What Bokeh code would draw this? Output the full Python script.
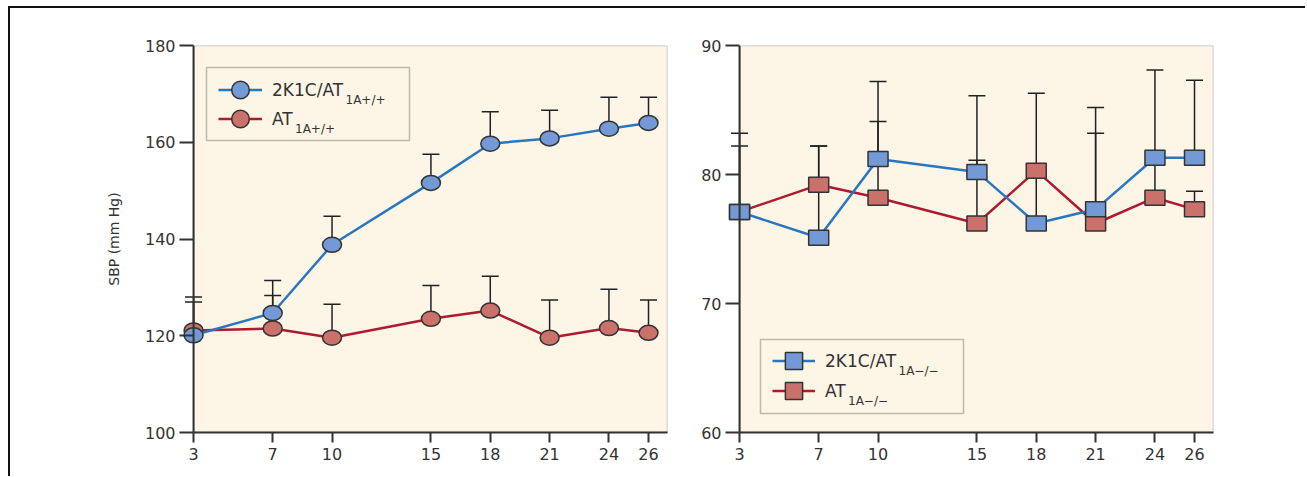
from bokeh.plotting import figure
from bokeh.models import (ColumnDataSource, Range1d, FixedTicker, Whisker, TeeHead, Span,
                          Legend, LegendItem, Label, BoxAnnotation)
from bokeh.layouts import row
from bokeh.embed import file_html
from bokeh.resources import INLINE

# ---------------- data ----------------
days = [3, 7, 10, 15, 18, 21, 24, 26]

# left panel: AT1A+/+ mice
wt_2k1c = [120.1, 124.7, 138.8, 151.6, 159.7, 160.8, 162.8, 164.0]
wt_2k1c_upper = [128.0, 131.4, 144.7, 157.5, 166.3, 166.6, 169.3, 169.3]
wt_ctrl = [121.1, 121.5, 119.6, 123.5, 125.2, 119.6, 121.6, 120.6]
wt_ctrl_upper = [127.0, 128.3, 126.5, 130.4, 132.3, 127.4, 129.6, 127.4]

# right panel: AT1A-/- mice
ko_2k1c = [77.1, 75.1, 81.2, 80.2, 76.2, 77.3, 81.3, 81.3]
ko_2k1c_upper = [83.2, 82.2, 87.2, 86.1, 86.3, 85.2, 88.1, 87.3]
ko_ctrl = [77.1, 79.2, 78.2, 76.2, 80.3, 76.2, 78.2, 77.3]
ko_ctrl_upper = [82.2, 82.2, 84.1, 81.1, 80.8, 83.2, 81.3, 78.7]

left_yticks = [100, 120, 140, 160, 180]
right_yticks = [60, 70, 80, 90]
y_label = "SBP (mm Hg)"

wt_labels = ["2K1C/AT", "AT"]
wt_subs = ["1A+/+", "1A+/+"]
ko_labels = ["2K1C/AT", "AT"]
ko_subs = ["1A\u2212/\u2212", "1A\u2212/\u2212"]

# ---------------- style ----------------
BLUE_LINE = "#2A76C0"
BLUE_FILL = "#7399D6"
RED_LINE = "#AE1A30"
RED_FILL = "#C9716A"
EDGE = "#333333"
BG = "#FDF5E6"
FONT = "DejaVu Sans"
X_START = 2.39   # room left of the y axis so edge markers are not clipped
X_END = 26.96
OFF = 12         # screen distance from frame edge to the y axis line


def make_fig(width, left, right, yr, yticks):
    p = figure(width=width, height=468, x_range=Range1d(X_START, X_END), y_range=Range1d(*yr),
               output_backend="svg", toolbar_location=None,
               min_border_left=left, min_border_right=right,
               min_border_top=37, min_border_bottom=44)
    p.background_fill_color = "white"
    p.border_fill_color = "white"
    p.outline_line_color = None
    p.xgrid.visible = False
    p.ygrid.visible = False
    # cream plotting area starting at the first day, with its own border
    p.add_layout(BoxAnnotation(left=days[0], fill_color=BG, fill_alpha=1,
                               line_color=EDGE, line_width=1.5, level="underlay"))
    p.add_layout(Span(location=days[0], dimension="height", line_color=EDGE, line_width=2))
    p.xaxis.ticker = FixedTicker(ticks=days)
    p.yaxis.ticker = FixedTicker(ticks=yticks)
    p.xaxis.bounds = (days[0], X_END)
    for ax in p.axis:
        ax.axis_line_width = 2
        ax.axis_line_color = EDGE
        ax.major_tick_line_width = 2
        ax.major_tick_line_color = EDGE
        ax.major_tick_in = 0
        ax.minor_tick_in = 0
        ax.minor_tick_out = 0
        ax.major_label_text_font = FONT
        ax.major_label_text_font_size = "16px"
        ax.major_label_text_color = EDGE
    p.xaxis.major_tick_out = 10
    p.xaxis.major_label_standoff = 5
    # y axis sits at the frame edge; its ticks reach in to the line at day 3
    p.yaxis.axis_line_color = None
    p.yaxis.major_tick_in = OFF
    p.yaxis.major_tick_out = 14 - OFF
    p.yaxis.major_label_standoff = 4
    return p


def add_series(p, y, upper, line_color, fill_color, shape):
    src = ColumnDataSource(dict(x=days, y=y, upper=upper))
    w = Whisker(source=src, base="x", upper="upper", lower="y", dimension="height",
                line_color="#222222", line_width=1.5,
                upper_head=TeeHead(size=17, line_color="#222222", line_width=1.5),
                lower_head=None, level="underlay")
    p.add_layout(w)
    line_r = p.line("x", "y", source=src, line_color=line_color, line_width=2.5)
    # zero-size markers: invisible in the plot, but give the legend its marker
    leg_r = p.scatter("x", "y", source=src, marker=shape, size=0, fill_color=fill_color,
                      line_color=EDGE, line_width=1.5)
    if shape == "circle":
        p.ellipse("x", "y", source=src, width=19, height=15, width_units="screen",
                  height_units="screen", fill_color=fill_color, line_color=EDGE, line_width=1.5)
    else:
        p.rect("x", "y", source=src, width=20, height=15, width_units="screen",
               height_units="screen", fill_color=fill_color, line_color=EDGE, line_width=1.5)
    return [line_r, leg_r]


def add_legend(p, label, sub, renderers, x, y, gw, sub_dx, sub_y):
    leg = Legend(items=[LegendItem(label=label, renderers=renderers)], location=(x, y),
                 padding=0, margin=0, spacing=0, glyph_width=gw, glyph_height=45,
                 label_standoff=10, label_text_font=FONT, label_text_font_size="17px",
                 label_text_color=EDGE, border_line_color=None, background_fill_alpha=0)
    p.add_layout(leg)
    p.add_layout(Label(x=x + gw + 10 + sub_dx, y=sub_y, x_units="screen", y_units="screen",
                       text=sub, text_font=FONT, text_font_size="12px",
                       text_baseline="alphabetic", text_color=EDGE))


# ---------------- left panel ----------------
p1 = make_fig(669, 171, 12, (100, 180), left_yticks)
p1.yaxis.axis_label = y_label
p1.yaxis.axis_label_text_font = FONT
p1.yaxis.axis_label_text_font_size = "14px"
p1.yaxis.axis_label_text_font_style = "normal"
p1.yaxis.axis_label_text_color = EDGE
p1.yaxis.axis_label_standoff = 20

r_wt_ctrl = add_series(p1, wt_ctrl, wt_ctrl_upper, RED_LINE, RED_FILL, "circle")
r_wt_2k1c = add_series(p1, wt_2k1c, wt_2k1c_upper, BLUE_LINE, BLUE_FILL, "circle")
p1.add_layout(BoxAnnotation(left=OFF + 13, right=OFF + 216, top=365, bottom=292,
                            left_units="screen", right_units="screen", top_units="screen",
                            bottom_units="screen", fill_alpha=0, line_color=EDGE, line_width=1.5))
add_legend(p1, wt_labels[0], wt_subs[0], r_wt_2k1c, OFF + 25, 320, 44, 73, 333)
add_legend(p1, wt_labels[1], wt_subs[1], r_wt_ctrl, OFF + 25, 291, 44, 22.5, 304)

# ---------------- right panel ----------------
p2 = make_fig(626, 48, 92, (60, 90), right_yticks)
r_ko_ctrl = add_series(p2, ko_ctrl, ko_ctrl_upper, RED_LINE, RED_FILL, "square")
r_ko_2k1c = add_series(p2, ko_2k1c, ko_2k1c_upper, BLUE_LINE, BLUE_FILL, "square")
p2.add_layout(BoxAnnotation(left=OFF + 21, right=OFF + 224, top=93, bottom=19,
                            left_units="screen", right_units="screen", top_units="screen",
                            bottom_units="screen", fill_alpha=0, line_color=EDGE, line_width=1.5))
add_legend(p2, ko_labels[0], ko_subs[0], r_ko_2k1c, OFF + 33, 49, 43, 73, 62)
add_legend(p2, ko_labels[1], ko_subs[1], r_ko_ctrl, OFF + 33, 19, 43, 22.5, 32)

layout = row(p1, p2, styles={"border-top": "2px solid #111", "border-left": "2px solid #111",
                             "margin-left": "8px", "margin-top": "6px"})

open("out.html", "w").write(file_html(layout, INLINE))
